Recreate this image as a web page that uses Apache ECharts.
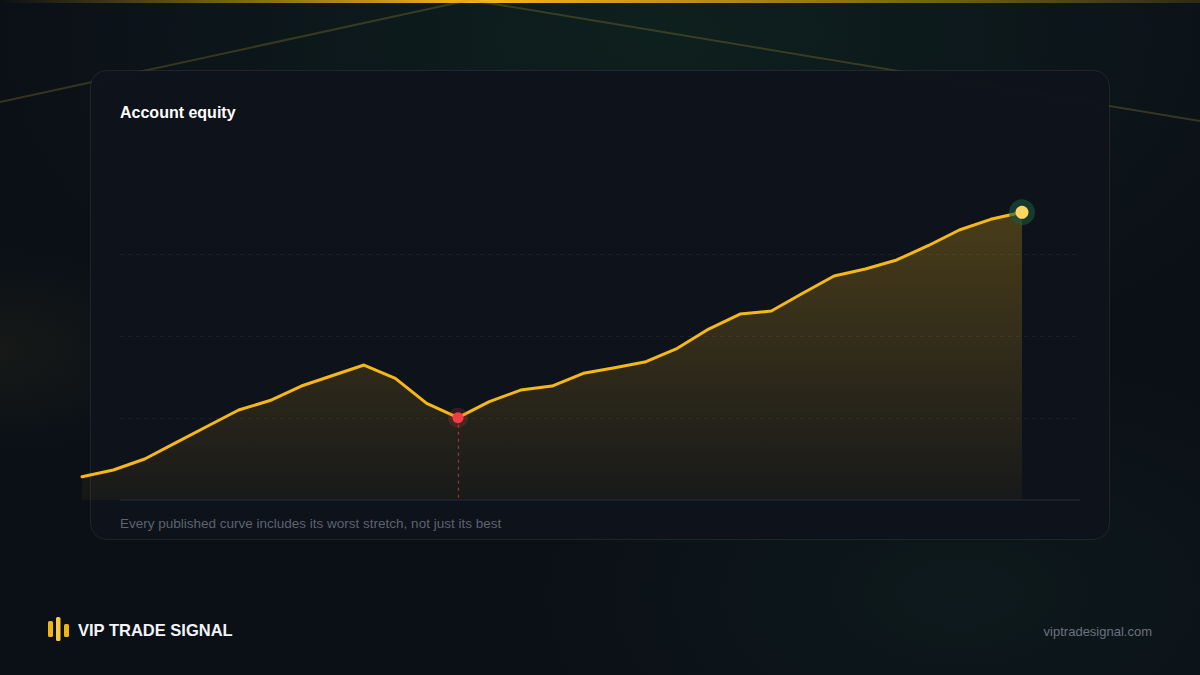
<!DOCTYPE html>
<html>
<head>
<meta charset="utf-8">
<script src="https://cdn.jsdelivr.net/npm/echarts@6/dist/echarts.min.js"></script>
<style>
  html, body { margin: 0; padding: 0; background: #0b1017; }
  #chart { width: 1200px; height: 675px; }
</style>
</head>
<body>
<div id="chart"></div>
<script>
// ---- data ----
const TITLE = 'Account equity';
const SUBTITLE = 'Every published curve includes its worst stretch, not just its best';
const BRAND = 'VIP TRADE SIGNAL';
const SITE = 'viptradesignal.com';
const PERIODS = [0,1,2,3,4,5,6,7,8,9,10,11,12,13,14,15,16,17,18,19,20,21,22,23,24,25,26,27,28,29,30];
const EQUITY = [10284,10366,10500,10699,10899,11098,11213,11390,11518,11646,11484,11179,11004,11199,11341,11390,11545,11613,11687,11850,12085,12268,12305,12521,12732,12817,12927,13101,13293,13423,13509];
const Y_MIN = 10000, Y_MAX = 14000;
const Y_GRID = [11000, 12000, 13000];
const WORST_INDEX = 12;

const FONT = '"Liberation Sans", Arial, Helvetica, sans-serif';
const GOLD = '#f5b816';
const lastIdx = PERIODS.length - 1;

const chart = echarts.init(document.getElementById('chart'), null, { renderer: 'svg', width: 1200, height: 675 });

// grid spans 82..1080; plotted baseline/gridlines span 120..1080
const STEP_PX = 940 / lastIdx;
const X_MAX = 998 / STEP_PX;
const X_LINE_START = 38 / STEP_PX;

const gridLines = Y_GRID.map(v => [{ coord: [X_LINE_START, v] }, { coord: [X_MAX, v] }]);
const baseLine = [{ coord: [X_LINE_START, Y_MIN], lineStyle: { color: '#1f2733', type: 'solid', width: 1.5 } }, { coord: [X_MAX, Y_MIN] }];
const worstLine = [{ coord: [PERIODS[WORST_INDEX], EQUITY[WORST_INDEX]], lineStyle: { color: 'rgba(239,68,68,0.6)', type: [3, 4], width: 1.3 } }, { coord: [PERIODS[WORST_INDEX], Y_MIN] }];

const option = {
  backgroundColor: '#0b1017',
  animation: false,
  grid: { left: 82, right: 120, top: 172, bottom: 175 },
  xAxis: {
    type: 'value', min: 0, max: X_MAX,
    axisLine: { show: false }, axisTick: { show: false }, axisLabel: { show: false }, splitLine: { show: false }
  },
  yAxis: {
    type: 'value', min: Y_MIN, max: Y_MAX,
    axisLine: { show: false }, axisTick: { show: false }, axisLabel: { show: false }, splitLine: { show: false }
  },
  graphic: [
    // background glows
    { type: 'rect', z: -20, silent: true, shape: { x: 0, y: 0, width: 1200, height: 675 },
      style: { fill: new echarts.graphic.RadialGradient(0.55, 0.05, 0.55, [
        { offset: 0, color: 'rgba(20,62,44,0.35)' }, { offset: 1, color: 'rgba(20,62,44,0)' }]) } },
    { type: 'rect', z: -20, silent: true, shape: { x: 0, y: 0, width: 1200, height: 675 },
      style: { fill: new echarts.graphic.RadialGradient(0.0, 0.52, 0.15, [
        { offset: 0, color: 'rgba(55,52,22,0.25)' }, { offset: 1, color: 'rgba(55,52,22,0)' }]) } },
    { type: 'rect', z: -20, silent: true, shape: { x: 0, y: 0, width: 1200, height: 675 },
      style: { fill: new echarts.graphic.RadialGradient(0.8, 0.88, 0.35, [
        { offset: 0, color: 'rgba(18,48,38,0.3)' }, { offset: 1, color: 'rgba(18,48,38,0)' }]) } },
    // top accent bar
    { type: 'rect', z: -15, silent: true, shape: { x: 0, y: 0, width: 1200, height: 3 },
      style: { fill: new echarts.graphic.LinearGradient(0, 0, 1, 0, [
        { offset: 0, color: 'rgba(234,179,8,0)' },
        { offset: 0.4, color: 'rgba(245,185,22,1)' },
        { offset: 1, color: 'rgba(234,179,8,0.15)' }]) } },
    // diagonal lines
    { type: 'line', z: -15, silent: true, shape: { x1: 470, y1: 0, x2: 0, y2: 102 },
      style: { stroke: 'rgba(170,145,55,0.28)', lineWidth: 2 } },
    { type: 'line', z: -15, silent: true, shape: { x1: 470, y1: 0, x2: 1200, y2: 121 },
      style: { stroke: 'rgba(170,145,55,0.28)', lineWidth: 2 } },
    // card
    { type: 'rect', z: -10, silent: true, shape: { x: 90.5, y: 70.5, width: 1019, height: 469, r: 16 },
      style: { fill: 'rgba(14,19,27,0.97)', stroke: 'rgba(255,255,255,0.08)', lineWidth: 1 } },
    // texts
    { type: 'text', z: 10, x: 120, y: 112, style: { text: TITLE, fill: '#ffffff', font: 'bold 16px ' + FONT, verticalAlign: 'middle' } },
    { type: 'text', z: 10, x: 120, y: 523, style: { text: SUBTITLE, fill: '#5c6371', font: '13.5px ' + FONT, verticalAlign: 'middle' } },
    // logo bars
    { type: 'rect', z: 10, shape: { x: 48, y: 621, width: 5, height: 16, r: 1.5 }, style: { fill: '#f0b416' } },
    { type: 'rect', z: 10, shape: { x: 56, y: 617, width: 4.5, height: 24, r: 1.5 }, style: { fill: '#f7c948' } },
    { type: 'rect', z: 10, shape: { x: 64, y: 624, width: 5, height: 13, r: 1.5 }, style: { fill: '#f0b416' } },
    { type: 'text', z: 10, x: 78, y: 630, style: { text: BRAND, fill: '#f2f4f7', font: 'bold 16.5px ' + FONT, verticalAlign: 'middle' } },
    { type: 'text', z: 10, x: 1152, y: 631, style: { text: SITE, fill: '#6b7280', font: '13px ' + FONT, verticalAlign: 'middle', align: 'right' } }
  ],
  series: [{
    type: 'line',
    data: PERIODS.map((p, i) => [p, EQUITY[i]]),
    symbol: 'none',
    lineStyle: { color: GOLD, width: 3, join: 'round', cap: 'round' },
    areaStyle: {
      color: new echarts.graphic.LinearGradient(0, 0, 0, 1, [
        { offset: 0, color: 'rgba(245,185,22,0.36)' },
        { offset: 1, color: 'rgba(245,185,22,0.06)' }])
    },
    markLine: {
      silent: true, symbol: 'none', label: { show: false },
      lineStyle: { color: 'rgba(255,255,255,0.06)', type: [4, 4], width: 1 },
      data: gridLines.concat([baseLine, worstLine])
    },
    markPoint: {
      silent: true, symbol: 'circle', label: { show: false },
      data: [
        { coord: [PERIODS[WORST_INDEX], EQUITY[WORST_INDEX]], symbolSize: 20, itemStyle: { color: 'rgba(239,68,68,0.18)' } },
        { coord: [PERIODS[WORST_INDEX], EQUITY[WORST_INDEX]], symbolSize: 11, itemStyle: { color: '#ef3e46' } },
        { coord: [PERIODS[lastIdx], EQUITY[lastIdx]], symbolSize: 26, itemStyle: { color: 'rgba(30,85,62,0.6)' } },
        { coord: [PERIODS[lastIdx], EQUITY[lastIdx]], symbolSize: 13, itemStyle: { color: '#fbd661' } }
      ]
    }
  }]
};
chart.setOption(option);
</script>
</body>
</html>
